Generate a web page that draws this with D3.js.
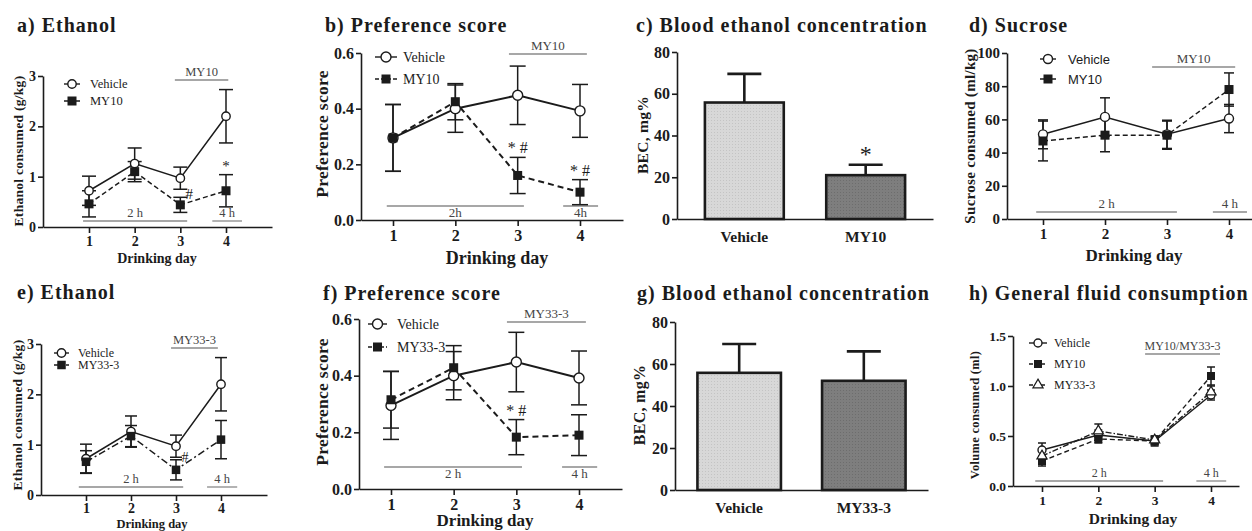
<!DOCTYPE html>
<html>
<head>
<meta charset="utf-8">
<script src="https://cdn.jsdelivr.net/npm/d3@7"></script>
<style>
body { margin: 0; background: #fff; }
svg text { font-family: "Liberation Serif", "Times New Roman", serif; fill: #1b1b1b; }
</style>
</head>
<body>
<svg id="fig" width="1252" height="531"></svg>
<script>
// ---- data ----
var days = [1, 2, 3, 4];

// ethanol consumed (g/kg)
var ethVehicle = [0.72, 1.26, 0.97, 2.20];
var ethVehicleErr = [0.29, 0.31, 0.22, 0.53];
var ethMY10 = [0.46, 1.10, 0.44, 0.72];
var ethMY10Err = [0.26, 0.20, 0.15, 0.32];
var ethMY33 = [0.66, 1.17, 0.50, 1.10];
var ethMY33Err = [0.22, 0.21, 0.20, 0.38];

// preference score
var prefVehicle = [0.295, 0.40, 0.448, 0.392];
var prefVehicleErr = [0.12, 0.085, 0.105, 0.095];
var prefMY10 = [0.295, 0.425, 0.16, 0.10];
var prefMY10Err = [0.12, 0.065, 0.065, 0.045];
var prefMY33 = [0.315, 0.428, 0.183, 0.19];
var prefMY33Err = [0.10, 0.078, 0.062, 0.072];

// sucrose consumed (ml/kg)
var sucVehicle = [51, 61.5, 51, 60.5];
var sucVehicleErr = [8.7, 11.5, 8.5, 8.5];
var sucMY10 = [47, 50.5, 50.5, 78];
var sucMY10Err = [12, 10, 8.5, 10];

// blood ethanol concentration (mg%)
var becGroupsC = ["Vehicle", "MY10"];
var becValuesC = [55.8, 21];
var becErrC = [13.7, 5];
var becGroupsG = ["Vehicle", "MY33-3"];
var becValuesG = [55.8, 52];
var becErrG = [13.7, 14];

// general fluid consumption (ml)
var fluidVehicle = [0.36, 0.51, 0.45, 0.91];
var fluidVehicleErr = [0.07, 0.05, 0.04, 0.05];
var fluidMY10 = [0.25, 0.47, 0.45, 1.10];
var fluidMY10Err = [0.05, 0.04, 0.05, 0.09];
var fluidMY33 = [0.30, 0.55, 0.46, 0.94];
var fluidMY33Err = [0.05, 0.07, 0.04, 0.06];

// treatment / session periods, in drinking days
var periodsA = [["MY10", 2.88, 4.05, "drug"], ["2 h", 0.87, 3.15, "time"], ["4 h", 3.70, 4.35, "time"]];
var periodsB = [["MY10", 2.86, 4.11, "drug"], ["2h", 0.90, 3.10, "time"], ["4h", 3.73, 4.29, "time"]];
var periodsD = [["MY10", 2.76, 4.10, "drug"], ["2 h", 0.89, 3.16, "time"], ["4 h", 3.74, 4.29, "time"]];
var periodsE = [["MY33-3", 2.89, 3.93, "drug"], ["2 h", 0.84, 3.16, "time"], ["4 h", 3.69, 4.36, "time"]];
var periodsF = [["MY33-3", 2.85, 4.11, "drug"], ["2 h", 0.89, 3.09, "time"], ["4 h", 3.73, 4.29, "time"]];
var periodsH = [["MY10/MY33-3", 2.83, 4.16, "drug"], ["2 h", 0.88, 3.15, "time"], ["4 h", 3.74, 4.27, "time"]];

// significance marks: [day, series index, text]
var marksA = [[3, 1, "#"], [4, 1, "*"]];
var marksB = [[3, 1, "* #"], [4, 1, "* #"]];
var marksE = [[3, 1, "#"]];
var marksF = [[3, 1, "* #"]];
var marksC = [[1, "*"]];

var svg = d3.select("#fig");
var ink = "#1b1b1b";
var grey = "#8a8a8a";
var serif = "Liberation Serif, Times New Roman, serif";

// dotted bar textures
var defs = svg.append("defs");
[["dotLight", "#d8d8d8", "#c4c4c4"], ["dotDark", "#7e7e7e", "#6d6d6d"]].forEach(function(p) {
    var pat = defs.append("pattern").attr("id", p[0])
        .attr("width", 3).attr("height", 3).attr("patternUnits", "userSpaceOnUse");
    pat.append("rect").attr("width", 3).attr("height", 3).attr("fill", p[1]);
    pat.append("rect").attr("width", 1).attr("height", 1).attr("fill", p[2]);
});

function title(x, y, txt) {
    svg.append("text").attr("x", x).attr("y", y)
        .attr("font-size", 20).attr("font-weight", "bold").attr("letter-spacing", 1)
        .text(txt);
}

function styleAxis(sel, size) {
    sel.attr("font-family", serif);
    sel.select(".domain").attr("stroke", ink).attr("stroke-width", 1.6);
    sel.selectAll(".tick line").attr("stroke", ink).attr("stroke-width", 1.6);
    sel.selectAll(".tick text").attr("fill", ink).attr("font-size", size)
        .attr("font-weight", "bold");
}

function yLabel(L, txt) {
    svg.append("text")
        .attr("transform", "translate(" + L.yLabX + "," + L.yLabY + ") rotate(-90)")
        .attr("text-anchor", "middle").attr("dominant-baseline", "central")
        .attr("font-size", L.yLabFont).attr("font-weight", "bold").attr("letter-spacing", 0.3)
        .text(txt);
}

function marker(g, type, cx, cy, L) {
    if (type === "circle") {
        g.append("circle").attr("cx", cx).attr("cy", cy).attr("r", L.r)
            .attr("fill", "#fff").attr("stroke", ink).attr("stroke-width", 1.4);
    } else if (type === "square") {
        g.append("rect").attr("x", cx - L.sq / 2).attr("y", cy - L.sq / 2)
            .attr("width", L.sq).attr("height", L.sq).attr("fill", ink);
    } else {
        g.append("path").attr("transform", "translate(" + cx + "," + cy + ")")
            .attr("d", d3.symbol(d3.symbolTriangle, L.tri)())
            .attr("fill", "#fff").attr("stroke", ink).attr("stroke-width", 1.2);
    }
}

function linePanel(L, series, periods, marks) {
    var g = svg.append("g");
    var x = d3.scaleLinear().domain([1, 4]).range([L.d1, L.d4]);
    var y = d3.scaleLinear().domain(L.yDomain).range([L.yBot, L.yTop]);

    var xAxisScale = d3.scaleLinear().domain([x.invert(L.ax), x.invert(L.xEnd)]).range([L.ax, L.xEnd]);
    g.append("g").attr("transform", "translate(0," + L.yBot + ")")
        .call(d3.axisBottom(xAxisScale).tickValues(days).tickFormat(d3.format("d"))
            .tickSize(6).tickSizeOuter(0).tickPadding(L.xPad))
        .call(styleAxis, L.tickFont);
    g.append("g").attr("transform", "translate(" + L.ax + ",0)")
        .call(d3.axisLeft(y).tickValues(L.yTicks).tickFormat(d3.format(L.fmt))
            .tickSize(5).tickSizeOuter(0).tickPadding(2))
        .call(styleAxis, L.tickFont);

    yLabel(L, L.yText);
    g.append("text").attr("x", L.xLabX).attr("y", L.xLabY).attr("text-anchor", "middle")
        .attr("font-size", L.xLabFont).attr("font-weight", "bold").text("Drinking day");

    // period bars
    periods.forEach(function(p) {
        var yy = p[3] === "drug" ? L.drugY : L.timeY;
        g.append("line").attr("x1", x(p[1])).attr("x2", x(p[2])).attr("y1", yy).attr("y2", yy)
            .attr("stroke", grey).attr("stroke-width", 1.3);
        var ty = p[3] === "drug" ? yy - 4 : (L.timeBelow ? yy + 11 : yy - 4);
        g.append("text").attr("x", (x(p[1]) + x(p[2])) / 2).attr("y", ty)
            .attr("text-anchor", "middle").attr("font-size", L.perFont).style("fill", "#454545")
            .text(p[0]);
    });

    var line = d3.line().x(function(d, i) { return x(days[i]); }).y(function(d) { return y(d); });
    series.forEach(function(s) {
        g.append("path").datum(s.v).attr("d", line).attr("fill", "none")
            .attr("stroke", ink).attr("stroke-width", L.lw)
            .attr("stroke-dasharray", s.dash);
    });
    series.forEach(function(s) {
        s.v.forEach(function(v, i) {
            var cx = x(days[i]);
            g.append("line").attr("x1", cx).attr("x2", cx)
                .attr("y1", y(v - s.e[i])).attr("y2", y(v + s.e[i]))
                .attr("stroke", ink).attr("stroke-width", 1.5);
            [v - s.e[i], v + s.e[i]].forEach(function(w) {
                g.append("line").attr("x1", cx - L.cap / 2).attr("x2", cx + L.cap / 2)
                    .attr("y1", y(w)).attr("y2", y(w)).attr("stroke", ink).attr("stroke-width", 1.5);
            });
        });
    });
    series.forEach(function(s) {
        s.v.forEach(function(v, i) { marker(g, s.marker, x(days[i]), y(v), L); });
    });

    marks.forEach(function(m) {
        var s = series[m[1]], i = days.indexOf(m[0]);
        var top = y(s.v[i] + s.e[i]);
        var alone = m[2] === "#";
        g.append("text").attr("x", x(m[0]) + (alone ? 9 : 0)).attr("y", alone ? top + 2 : top - 4)
            .attr("text-anchor", "middle").attr("font-size", L.markFont).text(m[2]);
    });

    // legend
    series.forEach(function(s, i) {
        var ly = L.legY + i * L.legDy;
        g.append("line").attr("x1", L.legX0).attr("x2", L.legX1).attr("y1", ly).attr("y2", ly)
            .attr("stroke", ink).attr("stroke-width", 1.4).attr("stroke-dasharray", s.dash ? "4,2" : null);
        marker(g, s.marker, (L.legX0 + L.legX1) / 2, ly, L);
        g.append("text").attr("x", L.legText).attr("y", ly).attr("dominant-baseline", "central")
            .attr("font-size", L.legFont).style("font-family", L.legFamily || serif)
            .text(s.name);
    });
}

function barPanel(L, groups, values, errs, marks) {
    var g = svg.append("g");
    var x = d3.scaleBand().domain(groups).range([L.ax, L.xEnd]).paddingInner(L.pIn).paddingOuter(L.pOut);
    var y = d3.scaleLinear().domain([0, 80]).range([L.yBot, L.yTop]);

    g.selectAll("rect.bar").data(values).enter().append("rect").attr("class", "bar")
        .attr("x", function(d, i) { return x(groups[i]); })
        .attr("y", function(d) { return y(d); })
        .attr("width", x.bandwidth())
        .attr("height", function(d) { return y(0) - y(d); })
        .attr("fill", function(d, i) { return i === 0 ? "url(#dotLight)" : "url(#dotDark)"; })
        .attr("stroke", ink).attr("stroke-width", 2.6);

    values.forEach(function(v, i) {
        var cx = x(groups[i]) + x.bandwidth() / 2;
        g.append("line").attr("x1", cx).attr("x2", cx).attr("y1", y(v)).attr("y2", y(v + errs[i]))
            .attr("stroke", ink).attr("stroke-width", 2.6);
        g.append("line").attr("x1", cx - 17).attr("x2", cx + 17).attr("y1", y(v + errs[i])).attr("y2", y(v + errs[i]))
            .attr("stroke", ink).attr("stroke-width", 2.6);
    });

    marks.forEach(function(m) {
        var cx = x(groups[m[0]]) + x.bandwidth() / 2;
        g.append("text").attr("x", cx).attr("y", y(values[m[0]] + errs[m[0]]) - 3)
            .attr("text-anchor", "middle").attr("font-size", 24).text(m[1]);
    });

    var xAxisScale = d3.scaleLinear().range([L.ax, L.xEnd]);
    g.append("g").attr("transform", "translate(0," + L.yBot + ")")
        .call(d3.axisBottom(xAxisScale).tickValues([]).tickSizeOuter(0))
        .call(styleAxis, 15);
    g.append("g").attr("transform", "translate(0," + L.yBot + ")")
        .call(d3.axisBottom(x).tickSize(0).tickPadding(L.xPad))
        .call(styleAxis, L.catFont)
        .select(".domain").remove();
    g.append("g").attr("transform", "translate(" + L.ax + ",0)")
        .call(d3.axisLeft(y).tickValues([0, 20, 40, 60, 80]).tickSize(5).tickSizeOuter(0).tickPadding(2))
        .call(styleAxis, L.tickFont);
    yLabel(L, "BEC, mg%");
}

// ---- row 1 ----
title(17, 32, "a) Ethanol");
linePanel({ ax: 43, yTop: 76, yBot: 227, xEnd: 272, d1: 89, d4: 226, yDomain: [0, 3], yTicks: [0, 1, 2, 3], fmt: "d",
    tickFont: 14, xPad: 3, yText: "Ethanol consumed (g/kg)", yLabX: 18, yLabY: 151, yLabFont: 13.5,
    xLabX: 157, xLabY: 263, xLabFont: 14, drugY: 80, timeY: 221, perFont: 12.5, lw: 1.5, cap: 14,
    r: 4.2, sq: 9, tri: 40, markFont: 15, legX0: 64, legX1: 80, legText: 90, legY: 84, legDy: 17, legFont: 12.5 },
    [{ name: "Vehicle", v: ethVehicle, e: ethVehicleErr, marker: "circle", dash: null },
     { name: "MY10", v: ethMY10, e: ethMY10Err, marker: "square", dash: "5,3" }],
    periodsA, marksA);

title(325, 32, "b) Preference score");
linePanel({ ax: 361, yTop: 53, yBot: 220, xEnd: 623, d1: 393, d4: 580, yDomain: [0, 0.6], yTicks: [0, 0.2, 0.4, 0.6], fmt: ".1f",
    tickFont: 16, xPad: 4, yText: "Preference score", yLabX: 322, yLabY: 134, yLabFont: 17.5,
    xLabX: 497, xLabY: 264, xLabFont: 18, drugY: 54, timeY: 206, timeBelow: true, perFont: 13, lw: 2, cap: 16,
    r: 5, sq: 9, tri: 40, markFont: 16, legX0: 375, legX1: 397, legText: 403, legY: 57, legDy: 22, legFont: 14 },
    [{ name: "Vehicle", v: prefVehicle, e: prefVehicleErr, marker: "circle", dash: null },
     { name: "MY10", v: prefMY10, e: prefMY10Err, marker: "square", dash: "6,4" }],
    periodsB, marksB);

title(636, 32, "c) Blood ethanol concentration");
barPanel({ ax: 677, yTop: 52, yBot: 219, xEnd: 933, pIn: 0.35, pOut: 0.23, tickFont: 16, catFont: 15.5, xPad: 12,
    yLabX: 642, yLabY: 135, yLabFont: 15.5 },
    becGroupsC, becValuesC, becErrC, marksC);

title(969, 32, "d) Sucrose");
linePanel({ ax: 1007, yTop: 53, yBot: 219, xEnd: 1252, d1: 1043, d4: 1229, yDomain: [0, 100], yTicks: [0, 20, 40, 60, 80, 100], fmt: "d",
    tickFont: 15, xPad: 3, yText: "Sucrose consumed (ml/kg)", yLabX: 970, yLabY: 136, yLabFont: 15,
    xLabX: 1134, xLabY: 261, xLabFont: 17, drugY: 67, timeY: 212, perFont: 13, lw: 1.5, cap: 10,
    r: 4.5, sq: 9, tri: 40, markFont: 15, legX0: 1040, legX1: 1056, legText: 1068, legY: 59, legDy: 20, legFont: 13,
    legFamily: "Liberation Sans, Arial, sans-serif" },
    [{ name: "Vehicle", v: sucVehicle, e: sucVehicleErr, marker: "circle", dash: null },
     { name: "MY10", v: sucMY10, e: sucMY10Err, marker: "square", dash: "5,3" }],
    periodsD, []);

// ---- row 2 ----
title(17, 299, "e) Ethanol");
linePanel({ ax: 41, yTop: 344, yBot: 495, xEnd: 267, d1: 86, d4: 221, yDomain: [0, 3], yTicks: [0, 1, 2, 3], fmt: "d",
    tickFont: 14, xPad: 2, yText: "Ethanol consumed (g/kg)", yLabX: 17, yLabY: 415, yLabFont: 13.5,
    xLabX: 152, xLabY: 528, xLabFont: 12.5, drugY: 348, timeY: 487, perFont: 12.5, lw: 1.5, cap: 12,
    r: 4.2, sq: 8.5, tri: 40, markFont: 14, legX0: 54, legX1: 69, legText: 78, legY: 353, legDy: 12, legFont: 12 },
    [{ name: "Vehicle", v: ethVehicle, e: ethVehicleErr, marker: "circle", dash: null },
     { name: "MY33-3", v: ethMY33, e: ethMY33Err, marker: "square", dash: "7,3,2,3" }],
    periodsE, marksE);

title(323, 300, "f) Preference score");
linePanel({ ax: 359, yTop: 319, yBot: 489, xEnd: 622, d1: 391, d4: 579, yDomain: [0, 0.6], yTicks: [0, 0.2, 0.4, 0.6], fmt: ".1f",
    tickFont: 16, xPad: 4, yText: "Preference score", yLabX: 322, yLabY: 402, yLabFont: 17.5,
    xLabX: 485, xLabY: 526, xLabFont: 17, drugY: 322, timeY: 467, timeBelow: true, perFont: 13, lw: 2, cap: 16,
    r: 5, sq: 9, tri: 40, markFont: 16, legX0: 368, legX1: 387, legText: 397, legY: 324, legDy: 23, legFont: 14 },
    [{ name: "Vehicle", v: prefVehicle, e: prefVehicleErr, marker: "circle", dash: null },
     { name: "MY33-3", v: prefMY33, e: prefMY33Err, marker: "square", dash: "6,4" }],
    periodsF, marksF);

title(637, 300, "g) Blood ethanol concentration");
barPanel({ ax: 675, yTop: 322, yBot: 490, xEnd: 928, pIn: 0.33, pOut: 0.18, tickFont: 16, catFont: 15.5, xPad: 12,
    yLabX: 639, yLabY: 405, yLabFont: 16 },
    becGroupsG, becValuesG, becErrG, []);

title(969, 300, "h) General fluid consumption");
linePanel({ ax: 1013, yTop: 336, yBot: 486, xEnd: 1239, d1: 1042, d4: 1211, yDomain: [0, 1.5], yTicks: [0, 0.5, 1, 1.5], fmt: ".1f",
    tickFont: 13.5, xPad: 3, yText: "Volume consumed (ml)", yLabX: 975, yLabY: 415, yLabFont: 12.5,
    xLabX: 1133, xLabY: 524, xLabFont: 15.5, drugY: 354, timeY: 481, perFont: 12, lw: 1.4, cap: 8,
    r: 4, sq: 8, tri: 45, markFont: 14, legX0: 1029, legX1: 1047, legText: 1054, legY: 343, legDy: 21, legFont: 12 },
    [{ name: "Vehicle", v: fluidVehicle, e: fluidVehicleErr, marker: "circle", dash: null },
     { name: "MY10", v: fluidMY10, e: fluidMY10Err, marker: "square", dash: "5,3" },
     { name: "MY33-3", v: fluidMY33, e: fluidMY33Err, marker: "triangle", dash: "6,2,1.5,2" }],
    periodsH, []);
</script>
</body>
</html>
